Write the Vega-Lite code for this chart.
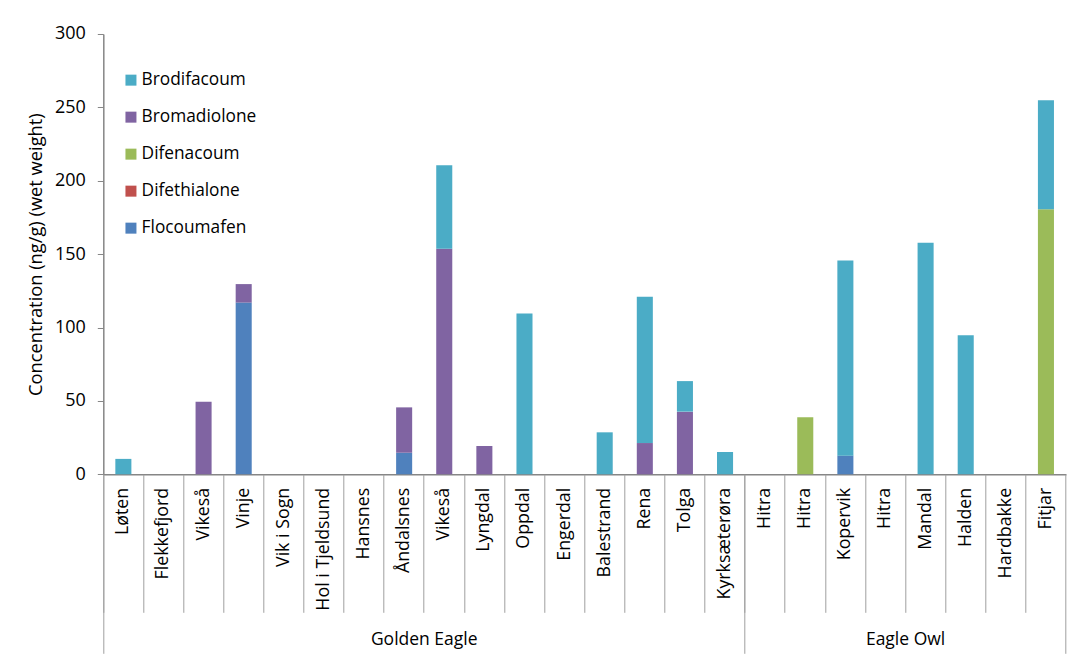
{
  "$schema": "https://vega.github.io/schema/vega-lite/v6.json",
  "autosize": {"type": "none"},
  "padding": {"left": 103.3, "top": 34, "right": 10, "bottom": 181},
  "width": 962.7,
  "height": 440.3,
  "background": "white",
  "config": {
    "font": "Open Sans",
    "view": {"stroke": null},
    "axis": {"labelColor": "#000000", "titleColor": "#000000", "domainColor": "#868686", "tickColor": "#a0a0a0", "labelFont": "Open Sans", "titleFont": "Open Sans"}
  },
  "data": {
    "values": [
      {"id": "Løten", "group": "Golden Eagle", "compound": "Brodifacoum", "value": 10.5},
      {"id": "Vikeså#1", "group": "Golden Eagle", "compound": "Bromadiolone", "value": 49.5},
      {"id": "Vinje", "group": "Golden Eagle", "compound": "Flocoumafen", "value": 117},
      {"id": "Vinje", "group": "Golden Eagle", "compound": "Bromadiolone", "value": 12.6},
      {"id": "Åndalsnes", "group": "Golden Eagle", "compound": "Flocoumafen", "value": 14.7},
      {"id": "Åndalsnes", "group": "Golden Eagle", "compound": "Bromadiolone", "value": 30.9},
      {"id": "Vikeså#2", "group": "Golden Eagle", "compound": "Bromadiolone", "value": 153.6},
      {"id": "Vikeså#2", "group": "Golden Eagle", "compound": "Brodifacoum", "value": 57},
      {"id": "Lyngdal", "group": "Golden Eagle", "compound": "Bromadiolone", "value": 19.3},
      {"id": "Oppdal", "group": "Golden Eagle", "compound": "Brodifacoum", "value": 109.6},
      {"id": "Balestrand", "group": "Golden Eagle", "compound": "Brodifacoum", "value": 28.6},
      {"id": "Rena", "group": "Golden Eagle", "compound": "Bromadiolone", "value": 21.3},
      {"id": "Rena", "group": "Golden Eagle", "compound": "Brodifacoum", "value": 99.6},
      {"id": "Tolga", "group": "Golden Eagle", "compound": "Bromadiolone", "value": 42.7},
      {"id": "Tolga", "group": "Golden Eagle", "compound": "Brodifacoum", "value": 20.8},
      {"id": "Kyrksæterøra", "group": "Golden Eagle", "compound": "Brodifacoum", "value": 15.2},
      {"id": "Hitra#2", "group": "Eagle Owl", "compound": "Difenacoum", "value": 38.8},
      {"id": "Kopervik", "group": "Eagle Owl", "compound": "Flocoumafen", "value": 12.7},
      {"id": "Kopervik", "group": "Eagle Owl", "compound": "Brodifacoum", "value": 133},
      {"id": "Mandal", "group": "Eagle Owl", "compound": "Brodifacoum", "value": 157.7},
      {"id": "Halden", "group": "Eagle Owl", "compound": "Brodifacoum", "value": 94.8},
      {"id": "Fitjar", "group": "Eagle Owl", "compound": "Difenacoum", "value": 180.6},
      {"id": "Fitjar", "group": "Eagle Owl", "compound": "Brodifacoum", "value": 74.2}
    ]
  },
  "resolve": {"axis": {"x": "independent"}},
  "layer": [
    {
      "mark": {"type": "bar", "width": {"band": 0.4}},
      "encoding": {
        "x": {
          "field": "id", "type": "nominal",
          "scale": {"domain": ["Løten", "Flekkefjord", "Vikeså#1", "Vinje", "Vik i Sogn", "Hol i Tjeldsund", "Hansnes", "Åndalsnes", "Vikeså#2", "Lyngdal", "Oppdal", "Engerdal", "Balestrand", "Rena", "Tolga", "Kyrksæterøra", "Hitra#1", "Hitra#2", "Kopervik", "Hitra#3", "Mandal", "Halden", "Hardbakke", "Fitjar"], "padding": 0},
          "axis": {"orient": "bottom", "title": null, "labelAngle": -90, "labelFontSize": 17.8, "labelPadding": 13, "ticks": false, "domain": true, "domainColor": "#868686", "domainWidth": 1.5, "grid": false, "labelExpr": "split(datum.label, '#')[0]"}
        },
        "y": {
          "field": "value", "type": "quantitative", "stack": "zero",
          "scale": {"domain": [0, 300]},
          "axis": {"title": "Concentration (ng/g) (wet weight)", "titleFontSize": 18.3, "titleFontWeight": "normal", "titlePadding": 9, "values": [0, 50, 100, 150, 200, 250, 300], "labelFontSize": 18, "labelPadding": 12, "tickSize": 6, "tickColor": "#868686", "domainColor": "#868686", "domainWidth": 1.5, "grid": false}
        },
        "color": {
          "field": "compound", "type": "nominal",
          "scale": {"domain": ["Brodifacoum", "Bromadiolone", "Difenacoum", "Difethialone", "Flocoumafen"], "range": ["#4BACC6", "#8064A2", "#9BBB59", "#C0504D", "#4F81BD"]},
          "legend": {"title": null, "orient": "none", "legendX": 19, "legendY": 37.5, "padding": 0, "symbolType": "square", "symbolSize": 121, "symbolStrokeWidth": 0, "labelFontSize": 17.3, "labelColor": "#000000", "labelOffset": 2, "rowPadding": 19, "labelFont": "Open Sans"}
        },
        "order": {"field": "compound", "sort": "descending"}
      }
    },
    {
      "transform": [{"filter": "false"}],
      "mark": "bar",
      "encoding": {
        "x": {
          "field": "id", "type": "nominal",
          "scale": {"domain": ["Løten", "Flekkefjord", "Vikeså#1", "Vinje", "Vik i Sogn", "Hol i Tjeldsund", "Hansnes", "Åndalsnes", "Vikeså#2", "Lyngdal", "Oppdal", "Engerdal", "Balestrand", "Rena", "Tolga", "Kyrksæterøra", "Hitra#1", "Hitra#2", "Kopervik", "Hitra#3", "Mandal", "Halden", "Hardbakke", "Fitjar"], "padding": 0},
          "axis": {"orient": "bottom", "title": null, "labels": false, "domain": false, "grid": false, "bandPosition": 0, "tickSize": 138, "tickColor": "#a0a0a0", "tickWidth": 1}
        }
      }
    },
    {
      "transform": [{"filter": "false"}],
      "mark": "bar",
      "encoding": {
        "x": {
          "field": "id", "type": "nominal",
          "scale": {"domain": ["Løten", "Flekkefjord", "Vikeså#1", "Vinje", "Vik i Sogn", "Hol i Tjeldsund", "Hansnes", "Åndalsnes", "Vikeså#2", "Lyngdal", "Oppdal", "Engerdal", "Balestrand", "Rena", "Tolga", "Kyrksæterøra", "Hitra#1", "Hitra#2", "Kopervik", "Hitra#3", "Mandal", "Halden", "Hardbakke", "Fitjar"], "padding": 0},
          "axis": {"orient": "bottom", "title": null, "labels": false, "domain": false, "grid": false, "values": ["Løten", "Hitra#1"], "bandPosition": 0, "tickSize": 179, "tickColor": "#a0a0a0", "tickWidth": 1}
        }
      }
    },
    {
      "transform": [{"filter": "false"}],
      "mark": "bar",
      "encoding": {
        "x": {
          "field": "id", "type": "nominal",
          "scale": {"domain": ["Løten", "Flekkefjord", "Vikeså#1", "Vinje", "Vik i Sogn", "Hol i Tjeldsund", "Hansnes", "Åndalsnes", "Vikeså#2", "Lyngdal", "Oppdal", "Engerdal", "Balestrand", "Rena", "Tolga", "Kyrksæterøra", "Hitra#1", "Hitra#2", "Kopervik", "Hitra#3", "Mandal", "Halden", "Hardbakke", "Fitjar"], "padding": 0},
          "axis": {"orient": "bottom", "title": null, "labels": false, "domain": false, "grid": false, "values": ["Fitjar"], "bandPosition": 1, "tickSize": 179, "tickColor": "#a0a0a0", "tickWidth": 1}
        }
      }
    },
    {
      "transform": [{"filter": "false"}],
      "mark": "bar",
      "encoding": {
        "x": {
          "field": "id", "type": "nominal",
          "scale": {"domain": ["Løten", "Flekkefjord", "Vikeså#1", "Vinje", "Vik i Sogn", "Hol i Tjeldsund", "Hansnes", "Åndalsnes", "Vikeså#2", "Lyngdal", "Oppdal", "Engerdal", "Balestrand", "Rena", "Tolga", "Kyrksæterøra", "Hitra#1", "Hitra#2", "Kopervik", "Hitra#3", "Mandal", "Halden", "Hardbakke", "Fitjar"], "padding": 0},
          "axis": {"orient": "bottom", "title": null, "domain": false, "grid": false, "ticks": false, "values": ["Vikeså#2", "Mandal"], "bandPosition": 0, "labelAngle": 0, "labelFontSize": 17.5, "labelPadding": 156, "labelOffset": -20.05, "labelExpr": "datum.value == 'Mandal' ? 'Eagle Owl' : 'Golden Eagle'"}
        }
      }
    }
  ]
}
